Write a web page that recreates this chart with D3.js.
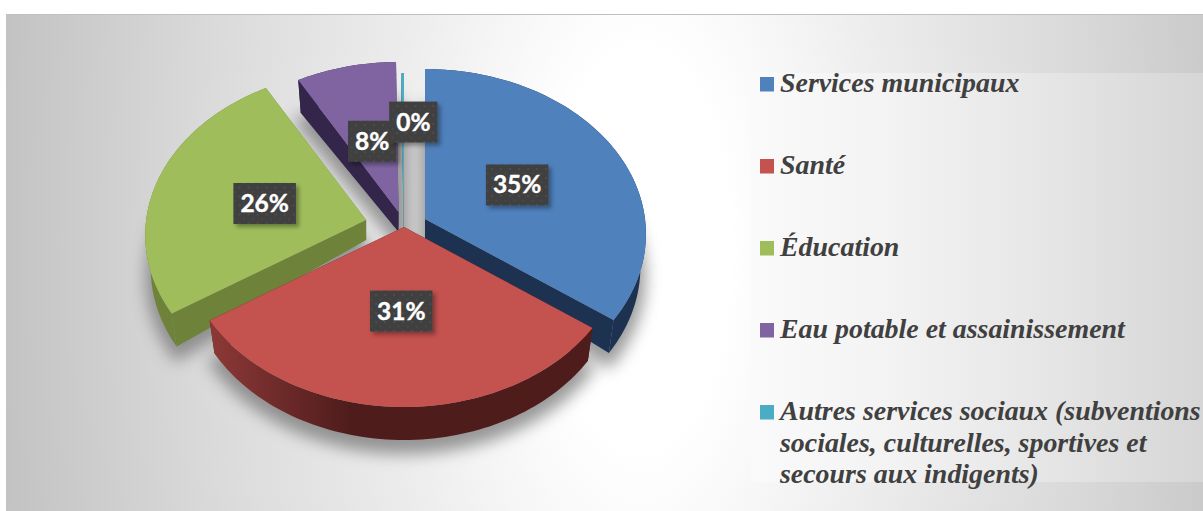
<!DOCTYPE html>
<html lang="fr">
<head>
<meta charset="UTF-8">
<title>Répartition des dépenses</title>
<script src="https://d3js.org/d3.v7.min.js"></script>
<style>
  body { margin: 0; background: #ffffff; }
  svg { display: block; }
  .legend-text { font-family: "Liberation Serif", serif; font-weight: bold; font-style: italic; font-size: 27.9px; fill: #404040; }
  .data-label { font-family: Lato, "Open Sans", sans-serif; font-weight: bold; font-size: 24.5px; fill: #ffffff; stroke: #ffffff; stroke-width: 0.4px; text-anchor: middle; }
</style>
</head>
<body>
<div id="chart"></div>
<script>
// data
const categories = ["Services municipaux", "Santé", "Éducation", "Eau potable et assainissement", "Autres services sociaux (subventions sociales, culturelles, sportives et secours aux indigents)"];
const values = [35, 31, 26, 8, 0.2];
const legendLines = [
  ["Services municipaux"],
  ["Santé"],
  ["Éducation"],
  ["Eau potable et assainissement"],
  ["Autres services sociaux (subventions", "sociales, culturelles, sportives et", "secours aux indigents)"]
];
const colors = ["#4f81bd", "#c4524f", "#9fbe5b", "#8064a2", "#4bacc6"];
const wallColors = ["#1c3250", "#4f1c1c", "#6f8239", "#33264a", "#256a7c"];
const explode = [23.6, 0, 39, 21, 5];
const drawOrder = [3, 4, 0, 2, 1];
const labelNudge = [[0, 1], [0, 2], [0, 2], [0, 2], [10, -26]];

const width = 1203, height = 511;
const cx = 404, cy = 227;
// tilted disc with a little perspective
const rx = 220, ry = 163.6, persp = 0.0909, squash = 0.74;
const depthCentre = 20, depthRim = 13, rimShrink = 0.975;

const svg = d3.select("#chart").append("svg").attr("width", width).attr("height", height);
const defs = svg.append("defs");

const bgGrad = defs.append("radialGradient").attr("id", "bg").attr("gradientUnits", "userSpaceOnUse")
  .attr("cx", 0).attr("cy", 0).attr("r", 1)
  .attr("gradientTransform", "translate(640,250) scale(640,1400)");
[[0, "#ffffff"], [0.14, "#ffffff"], [0.4, "#ececec"], [0.7, "#d9d9d9"], [1, "#c3c3c3"]].forEach(s =>
  bgGrad.append("stop").attr("offset", s[0]).attr("stop-color", s[1]));

const legendGrad = defs.append("linearGradient").attr("id", "legendBg").attr("gradientUnits", "userSpaceOnUse")
  .attr("x1", 751).attr("x2", 1203).attr("y1", 0).attr("y2", 0);
[[0, "#fafafa"], [0.3, "#f3f3f3"], [0.6, "#e8e8e8"], [1, "#d6d6d6"]].forEach(s =>
  legendGrad.append("stop").attr("offset", s[0]).attr("stop-color", s[1]));

const redWall = defs.append("linearGradient").attr("id", "redWall").attr("gradientUnits", "userSpaceOnUse")
  .attr("x1", 215).attr("x2", 350).attr("y1", 0).attr("y2", 0);
redWall.append("stop").attr("offset", 0).attr("stop-color", "#8a3836");
redWall.append("stop").attr("offset", 1).attr("stop-color", "#4f1c1c");

const dots = defs.append("pattern").attr("id", "dots").attr("patternUnits", "userSpaceOnUse")
  .attr("width", 9).attr("height", 9);
dots.append("rect").attr("width", 9).attr("height", 9).attr("fill", "#3f3f3f");
dots.append("circle").attr("cx", 2).attr("cy", 2).attr("r", 1.1).attr("fill", "#505050");
dots.append("circle").attr("cx", 6.5).attr("cy", 6.5).attr("r", 1.1).attr("fill", "#4a4a4a");

defs.append("filter").attr("id", "pieShadow").attr("x", "-20%").attr("y", "-20%").attr("width", "140%").attr("height", "140%")
  .append("feGaussianBlur").attr("stdDeviation", 8);
const boxShadow = defs.append("filter").attr("id", "boxShadow").attr("x", "-30%").attr("y", "-30%").attr("width", "160%").attr("height", "160%");
boxShadow.append("feDropShadow").attr("dx", 3).attr("dy", 3).attr("stdDeviation", 2).attr("flood-color", "#000000").attr("flood-opacity", 0.35);

// background
svg.append("rect").attr("x", 6).attr("y", 15).attr("width", width - 6).attr("height", height - 15).attr("fill", "url(#bg)");
svg.append("line").attr("x1", 6).attr("x2", width).attr("y1", 14.5).attr("y2", 14.5).attr("stroke", "#c0c0c0");

// angles
const pie = d3.pie().sort(null).value(d => d);
const slices = pie(values).map((d, i) => {
  const mid = (d.startAngle + d.endAngle) / 2;
  return {
    i, start: d.startAngle, end: d.endAngle, mid,
    ox: cx + explode[i] * Math.sin(mid),
    oy: cy - explode[i] * Math.cos(mid) * squash
  };
});

function project(s, angle, rho) {
  const u = rho * Math.sin(angle), v = -rho * Math.cos(angle);
  const k = 1 - persp * v;
  return [s.ox + rx * u / k, s.oy + ry * v / k];
}
function lower(s, p, rho) {
  return [s.ox + (p[0] - s.ox) * (1 - (1 - rimShrink) * rho), p[1] + depthCentre + depthRim * rho];
}
function rimAngles(s) {
  const n = Math.max(2, Math.ceil((s.end - s.start) * 40));
  return d3.range(n + 1).map(k => s.start + (s.end - s.start) * k / n);
}

const line = d3.line().curve(d3.curveLinearClosed);

function topPath(s) {
  return line([project(s, 0, 0)].concat(rimAngles(s).map(a => project(s, a, 1))));
}
function bottomPath(s) {
  const apex = lower(s, project(s, 0, 0), 0);
  return line([apex].concat(rimAngles(s).map(a => lower(s, project(s, a, 1), 1))));
}
function sidePath(s, angle) {
  const a = project(s, 0, 0), b = project(s, angle, 1);
  return line([a, b, lower(s, b, 1), lower(s, a, 0)]);
}
function rimPath(s) {
  const up = rimAngles(s).map(a => project(s, a, 1));
  const down = up.map(p => lower(s, p, 1)).reverse();
  return line(up.concat(down));
}

// soft shadow under the slices
svg.append("g").attr("filter", "url(#pieShadow)").attr("opacity", 0.7)
  .selectAll("path").data(slices).join("path")
  .attr("d", bottomPath)
  .attr("transform", "translate(0,9)")
  .attr("fill", "#6e6e6e")
  .attr("stroke", "#6e6e6e")
  .attr("stroke-width", 10);

// slices, back to front
const sliceG = svg.append("g").selectAll("g").data(drawOrder.map(i => slices[i])).join("g");
sliceG.append("path").attr("d", s => sidePath(s, s.start)).attr("fill", s => wallColors[s.i]);
sliceG.append("path").attr("d", s => sidePath(s, s.end)).attr("fill", s => wallColors[s.i]);
sliceG.append("path").attr("d", rimPath).attr("fill", s => s.i === 1 ? "url(#redWall)" : wallColors[s.i]);
sliceG.append("path").attr("d", topPath).attr("fill", s => colors[s.i]);

// data labels
const pct = d3.format(".0%");
const total = d3.sum(values);
const labelOrder = [0, 1, 2, 3, 4];
const labelG = svg.append("g").selectAll("g").data(labelOrder.map(i => slices[i])).join("g")
  .attr("transform", s => {
    const p = project(s, s.mid, 0.48);
    return `translate(${p[0] + labelNudge[s.i][0]},${p[1] + labelNudge[s.i][1]})`;
  });
const labelRect = labelG.append("rect").attr("fill", "url(#dots)").attr("filter", "url(#boxShadow)");
const labelText = labelG.append("text").attr("class", "data-label").attr("y", 8.5)
  .text(s => pct(values[s.i] / total));
labelText.each(function (s) { s.tw = this.getComputedTextLength(); });
labelRect.attr("x", s => -(s.tw + 14) / 2).attr("width", s => s.tw + 14).attr("y", -20.5).attr("height", 41);

// legend
svg.append("rect").attr("x", 751).attr("y", 73).attr("width", width - 751).attr("height", 409).attr("fill", "url(#legendBg)");
const legendY = d3.scalePoint().domain(d3.range(categories.length)).range([92, 420]);
const legendG = svg.append("g").selectAll("g").data(categories).join("g")
  .attr("transform", (d, i) => `translate(0,${legendY(i)})`);
legendG.append("rect").attr("x", 760).attr("y", -15).attr("width", 14).attr("height", 14.5)
  .attr("fill", (d, i) => colors[i]);
legendG.append("text").attr("class", "legend-text")
  .selectAll("tspan").data((d, i) => legendLines[i]).join("tspan")
  .attr("x", 780).attr("y", (d, j) => j * 31.5)
  .text(d => d);
</script>
</body>
</html>
